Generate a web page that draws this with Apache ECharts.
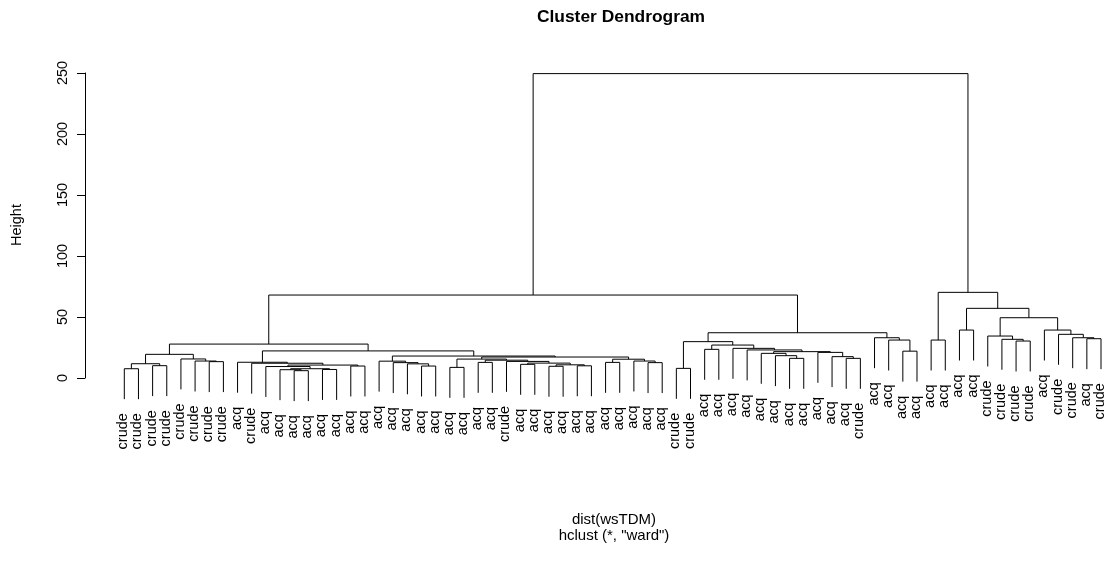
<!DOCTYPE html>
<html><head><meta charset="utf-8">
<script src="https://cdn.jsdelivr.net/npm/echarts@6/dist/echarts.min.js"></script>
<style>html,body{margin:0;padding:0;background:#fff}#c{width:1106px;height:565px}</style>
</head><body><div id="c"></div>
<script>
// Leaf labels in display order (left to right)
const leafLabels = [
  'crude','crude','crude','crude','crude','crude','crude','crude','acq','crude',
  'acq','acq','acq','acq','acq','acq','acq','acq','acq','acq',
  'acq','acq','acq','acq','acq','acq','acq','crude','acq','acq',
  'acq','acq','acq','acq','acq','acq','acq','acq','acq','crude',
  'crude','acq','acq','acq','acq','acq','acq','acq','acq','acq',
  'acq','acq','crude','acq','acq','acq','acq','acq','acq','acq',
  'acq','crude','crude','crude','crude','acq','crude','crude','acq','crude'
];
// Merges, R style: negative = leaf (-(index+1)), positive = earlier merge row (1-based)
const merges = [
  [-1,-2],[-3,-4],[1,2],[-7,-8],[-6,4],[-5,5],[3,6],
  [-13,-14],[-12,8],[-15,-16],[9,10],[-11,11],[-17,-18],[12,13],[-10,14],[-9,15],
  [-22,-23],[-21,17],[-20,18],[-19,19],
  [-24,-25],[-26,-27],[-29,-30],[-31,-32],[-33,-34],[24,25],[23,26],[-28,27],[22,28],[21,29],
  [-35,-36],[-38,-39],[-37,32],[31,33],[30,34],[20,35],[16,36],[7,37],
  [-40,-41],[-42,-43],[-48,-49],[-47,41],[-46,42],[-52,-53],[-51,44],[-50,45],[43,46],[-45,47],[-44,48],[40,49],[39,50],
  [-56,-57],[-55,52],[-54,53],[51,54],[38,55],
  [-58,-59],[-60,-61],[-64,-65],[-63,59],[-62,60],[-69,-70],[-68,62],[-67,63],[-66,64],[61,65],[58,66],[57,67],[56,68]
];
// Merge heights, same order as merges
const heights = [
  7.6,10.1,11.7,13.4,13.9,15.6,19.4,
  6.0,6.8,7.0,7.6,9.4,9.8,10.6,12.1,12.9,
  9.8,11.6,12.6,13.8,
  8.7,12.8,11.2,9.6,10.0,10.8,12.2,13.6,14.6,15.5,
  12.8,12.6,13.9,15.4,17.2,18.0,22.2,27.8,
  7.9,23.5,16.1,18.3,20.2,16.1,17.5,21.0,21.6,23.0,24.3,27.0,29.8,
  22.0,31.1,33.0,37.1,68.0,
  31.1,39.3,30.3,31.7,34.4,32.2,33.0,35.8,39.3,49.4,57.1,70.2,249.5
];
const yTicks = [0, 50, 100, 150, 200, 250];
const titleText = 'Cluster Dendrogram';
const subLines = ['dist(wsTDM)', 'hclust (*, "ward")'];
const yName = 'Height';

const FONT = '"Liberation Sans", Arial, Helvetica, sans-serif';
const hang = 0.1 * Math.max.apply(null, heights);

// layout
const mx = [];
const nodeX = v => v < 0 ? (-v - 1) : mx[v - 1];
merges.forEach((m, k) => { mx[k] = (nodeX(m[0]) + nodeX(m[1])) / 2; });
const segData = [];
const labelData = [];
merges.forEach((m, k) => {
  const h = heights[k];
  const childH = v => v < 0 ? h - hang : heights[v - 1];
  segData.push([nodeX(m[0]), childH(m[0]), nodeX(m[1]), childH(m[1]), h]);
  m.forEach(v => { if (v < 0) labelData.push([-v - 1, h - hang, -v - 1]); });
});

const chart = echarts.init(document.getElementById('c'), null, {renderer: 'canvas'});
chart.setOption({
  animation: false,
  backgroundColor: '#fff',
  grid: {left: 85, right: 5, top: 73, bottom: 187},
  xAxis: {type: 'value', min: -2.777, max: leafLabels.length - 1, show: false},
  yAxis: {
    type: 'value', min: yTicks[0], max: yTicks[yTicks.length - 1], interval: yTicks[1] - yTicks[0],
    axisLine: {show: true, onZero: false, lineStyle: {color: '#000', width: 1}},
    axisTick: {show: true, length: 8, lineStyle: {color: '#000', width: 1}},
    axisLabel: {rotate: 90, margin: 15, color: '#000', fontSize: 14.5, fontFamily: FONT},
    splitLine: {show: false}
  },
  graphic: [
    {type: 'text', x: 621, y: 17, style: {text: titleText, font: 'bold 17.4px ' + FONT, fill: '#000', align: 'center', verticalAlign: 'middle', textAlign: 'center', textVerticalAlign: 'middle'}},
    {type: 'text', x: 614, y: 520, style: {text: subLines[0], font: '15px ' + FONT, fill: '#000', align: 'center', verticalAlign: 'middle', textAlign: 'center', textVerticalAlign: 'middle'}},
    {type: 'text', x: 614, y: 536, style: {text: subLines[1], font: '15px ' + FONT, fill: '#000', align: 'center', verticalAlign: 'middle', textAlign: 'center', textVerticalAlign: 'middle'}},
    {type: 'text', x: 17, y: 225, rotation: Math.PI / 2, style: {text: yName, font: '14.5px ' + FONT, fill: '#000', align: 'center', verticalAlign: 'middle', textAlign: 'center', textVerticalAlign: 'middle'}}
  ],
  series: [
    {
      type: 'custom', clip: false, silent: true,
      data: segData,
      renderItem: function (params, api) {
        const p1 = api.coord([api.value(0), api.value(1)]);
        const p2 = api.coord([api.value(0), api.value(4)]);
        const p3 = api.coord([api.value(2), api.value(4)]);
        const p4 = api.coord([api.value(2), api.value(3)]);
        return {type: 'polyline', shape: {points: [p1, p2, p3, p4]}, style: {stroke: '#000', fill: null, lineWidth: 1}};
      }
    },
    {
      type: 'custom', clip: false, silent: true,
      data: labelData,
      renderItem: function (params, api) {
        const p = api.coord([api.value(0), api.value(1)]);
        return {type: 'text', x: p[0] - 1, y: p[1] + 14, rotation: Math.PI / 2,
          style: {text: leafLabels[api.value(2)], fill: '#000', font: '14.5px ' + FONT,
            align: 'right', verticalAlign: 'middle', textAlign: 'right', textVerticalAlign: 'middle'}};
      }
    }
  ]
});
</script></body></html>
